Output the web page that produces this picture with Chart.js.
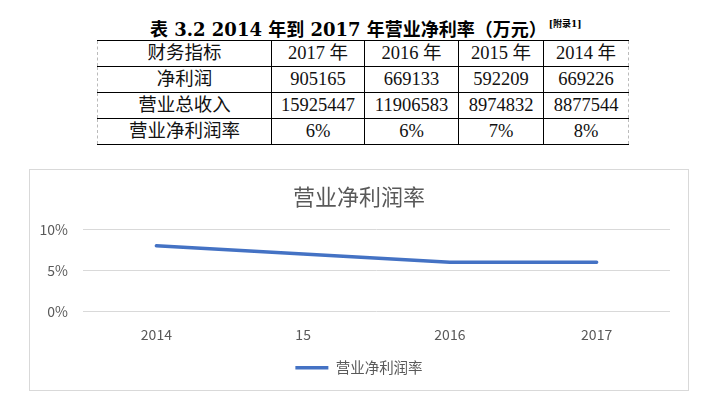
<!DOCTYPE html>
<html>
<head>
<meta charset="utf-8">
<script src="https://cdn.jsdelivr.net/npm/chart.js@4"></script>
<style>
  body { margin: 0; background: #fff; width: 706px; height: 398px; position: relative; overflow: hidden; }
  #tblTitle {
    position: absolute; left: 150px; top: 15px; white-space: nowrap;
    font: bold 18px "DejaVu Serif", "Liberation Serif", "Noto Sans CJK SC", serif; color: #000;
  }
  #tblTitle sup { font-size: 9px; vertical-align: 9px; margin-left: 2px; }
  table {
    position: absolute; left: 97px; top: 40px; border-collapse: collapse;
    font: 18.5px "Liberation Serif", "DejaVu Serif", "Noto Sans CJK SC", serif; color: #111;
  }
  td { border: 1px solid #000; height: 25px; padding: 0; text-align: center; line-height: 25px; }
  td:first-child { border-left: 1px dashed #bbb; }
  td:last-child { border-right: 1px dashed #bbb; }
  #box {
    position: absolute; left: 29px; top: 169px; width: 658px; height: 220px;
    border: 1px solid #d9d9d9;
  }
  #box canvas { display: block; }
</style>
</head>
<body>
<div id="tblTitle">表 3.2 2014 年到 2017 年营业净利率（万元）<sup>[附录1]</sup></div>
<table id="tbl"></table>
<div id="box"><canvas id="chart" width="658" height="220"></canvas></div>
<script>
// 表格数据
const tableHeader = ['财务指标', '2017 年', '2016 年', '2015 年', '2014 年'];
const netProfit = ['净利润', '905165', '669133', '592209', '669226'];
const totalRevenue = ['营业总收入', '15925447', '11906583', '8974832', '8877544'];
const netMargin = ['营业净利润率', '6%', '6%', '7%', '8%'];
const colWidths = [173, 92, 93, 84, 84];

// 图表数据
const years = ['2014', '15', '2016', '2017'];
const marginValues = [0.08, 0.07, 0.06, 0.06];
const yTicks = [0, 0.05, 0.10];

const tbl = document.getElementById('tbl');
[tableHeader, netProfit, totalRevenue, netMargin].forEach(row => {
  const tr = document.createElement('tr');
  row.forEach((txt, i) => {
    const td = document.createElement('td');
    td.textContent = txt;
    td.style.width = colWidths[i] + 'px';
    tr.appendChild(td);
  });
  tbl.appendChild(tr);
});

const textColor = '#595959';
const fontFamily = '"Noto Sans CJK SC", "Open Sans", sans-serif';

new Chart(document.getElementById('chart'), {
  type: 'line',
  data: {
    labels: years,
    datasets: [{
      label: '营业净利润率',
      data: marginValues,
      borderColor: '#4472C4',
      backgroundColor: '#4472C4',
      borderWidth: 3.5,
      borderCapStyle: 'round',
      borderJoinStyle: 'round',
      pointRadius: 0,
      pointStyle: 'line',
      tension: 0
    }]
  },
  options: {
    responsive: false,
    animation: false,
    layout: { padding: { top: 2, right: 0, bottom: 5, left: 0 } },
    plugins: {
      title: {
        display: true,
        text: '营业净利润率',
        color: textColor,
        font: { family: fontFamily, size: 22, weight: 'normal' },
        padding: { top: 11, bottom: 20 }
      },
      legend: {
        position: 'bottom',
        labels: {
          color: textColor,
          usePointStyle: true,
          pointStyleWidth: 33,
          padding: 2,
          font: { family: fontFamily, size: 14.5 }
        }
      },
      tooltip: { enabled: false }
    },
    scales: {
      x: {
        offset: true,
        grid: { display: false, drawTicks: false },
        border: { display: false },
        ticks: { color: textColor, padding: 15, font: { family: fontFamily, size: 14 } }
      },
      y: {
        min: 0,
        max: 0.10,
        afterBuildTicks: s => { s.ticks = yTicks.map(v => ({ value: v })); },
        afterFit: s => { s.width = 53; },
        grid: { color: '#d9d9d9', lineWidth: 1, drawTicks: false },
        border: { display: false },
        ticks: {
          color: textColor,
          padding: 15,
          font: { family: fontFamily, size: 14 },
          callback: v => Math.round(v * 100) + '%'
        }
      },
      // 右侧空白轴，只占位置
      yRight: {
        position: 'right',
        afterFit: s => { s.width = 18; },
        grid: { display: false, drawTicks: false },
        border: { display: false },
        ticks: { display: false }
      }
    }
  }
});
</script>
</body>
</html>
